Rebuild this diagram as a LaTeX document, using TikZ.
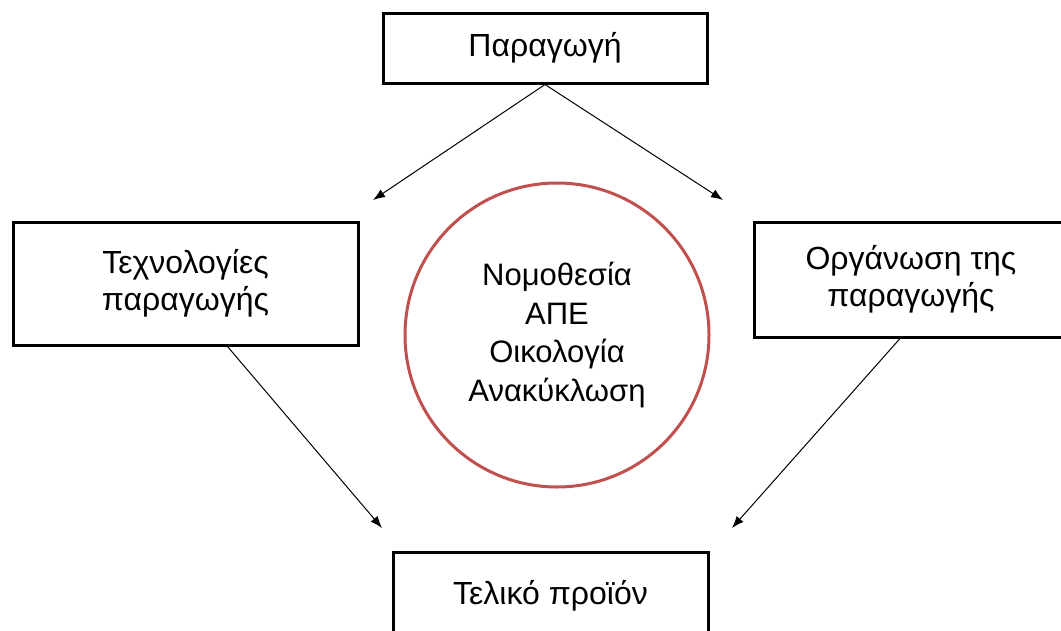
\documentclass[tikz,border=0pt]{standalone}
\usepackage{fontspec}
\setmainfont{Liberation Sans}
\usetikzlibrary{calc, arrows.meta}

\begin{document}
\begin{tikzpicture}[x=1pt, y=-1pt,
    box/.style={draw, line width=3pt, inner sep=0pt, align=center,
      font=\fontsize{32}{37}\selectfont},
    arr/.style={-{Latex[length=12pt,width=9pt]}, line width=1pt}]
  \useasboundingbox (0,0) rectangle (1061,630);
  % the four boxes
  \node[box, minimum width=324pt, minimum height=70pt] (prod) at (545,48) {Παραγωγή};
  \node[box, minimum width=345pt, minimum height=123pt] (tech) at (185.5,283.5) {Τεχνολογίες\\παραγωγής};
  \node[box, minimum width=314pt, minimum height=115pt] (org) at (911,279.5) {Οργάνωση της\\παραγωγής};
  \node[box, minimum width=315pt, minimum height=88pt] (final) at (550.5,596) {Τελικό προϊόν};
  % centre circle
  \node[circle, draw={rgb,255:red,192;green,80;blue,77}, line width=3pt,
    minimum size=304pt, inner sep=0pt, align=center,
    font=\fontsize{31}{38.5}\selectfont] (law) at (557,335)
    {Νομοθεσία\\ΑΠΕ\\Οικολογία\\Ανακύκλωση};
  % arrow tips
  \coordinate (tipTL) at (373,200);
  \coordinate (tipTR) at (723,200);
  \coordinate (tipBL) at (382,528);
  \coordinate (tipBR) at (732,528);
  % upper arrows
  \draw[arr] (prod.south) -- (tipTL);
  \draw[arr] (prod.south) -- (tipTR);
  % lower arrows
  \draw[arr] ([xshift=42pt]tech.south) -- (tipBL);
  \draw[arr] ([xshift=-11pt]org.south) -- (tipBR);
\end{tikzpicture}
\end{document}
